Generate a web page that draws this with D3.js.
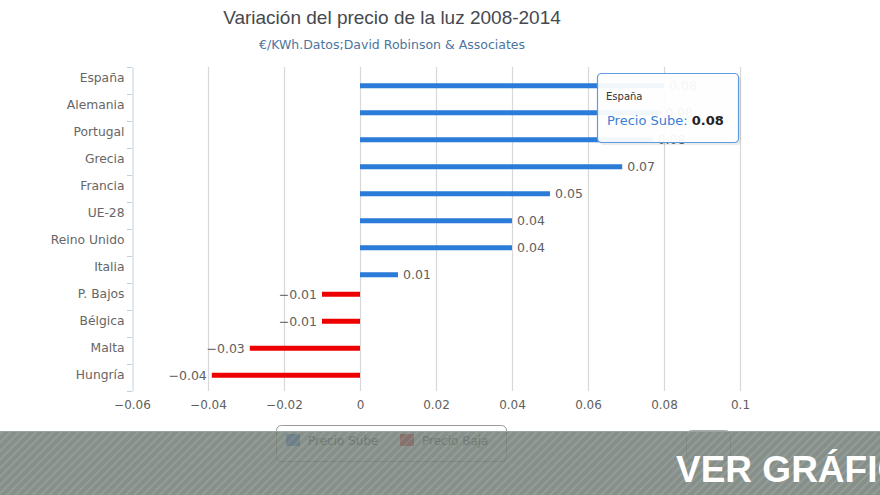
<!DOCTYPE html>
<html><head><meta charset="utf-8">
<script src="https://cdn.jsdelivr.net/npm/d3@7/dist/d3.min.js"></script>
<style>body{margin:0;background:#fff}svg{display:block}</style>
</head><body>
<svg id="c" width="880" height="495"></svg>
<script>
const categories = ["España","Alemania","Portugal","Grecia","Francia","UE-28","Reino Unido","Italia","P. Bajos","Bélgica","Malta","Hungría"];
const precioSube = [0.08,0.079,0.077,0.069,0.05,0.04,0.04,0.01,null,null,null,null];
const precioBaja = [null,null,null,null,null,null,null,null,-0.01,-0.01,-0.029,-0.039];
const xTicks = [-0.06,-0.04,-0.02,0,0.02,0.04,0.06,0.08,0.1];
const seriesNames = ["Precio Baja","Precio Sube"];
const legendNames = ["Precio Sube","Precio Baja"];
const title = "Variación del precio de la luz 2008-2014";
const subtitle = "€/KWh.Datos;David Robinson & Associates";

const svg = d3.select("#c");
const font = "'DejaVu Sans', sans-serif";
const x = d3.scaleLinear().domain([-0.06,0.1]).range([132,740]);
const y = d3.scaleBand().domain(categories).range([67,391]);
const inner = d3.scaleBand().domain(seriesNames).range([7.5,22.5]);
const colors = {"Precio Sube":"#2b7bd9","Precio Baja":"#ee0000"};

svg.append("text").attr("x",392).attr("y",24).attr("text-anchor","middle")
  .attr("font-family","'Liberation Sans', Arial, sans-serif").attr("font-size",19).attr("fill","#45494f").text(title);
svg.append("text").attr("x",392).attr("y",49).attr("text-anchor","middle")
  .attr("font-family",font).attr("font-size",12.5).attr("fill","#4d759e").text(subtitle);

// grid
svg.append("g").selectAll("line").data(xTicks.filter(d=>d!==-0.06)).join("line")
  .attr("x1",d=>x(d)+0.5).attr("x2",d=>x(d)+0.5).attr("y1",67).attr("y2",391)
  .attr("stroke","#d8d8d8").attr("stroke-width",1.2);

// x axis labels
const xa = svg.append("g").attr("transform","translate(0,391)")
  .call(d3.axisBottom(x).tickValues(xTicks).tickSize(0).tickPadding(9).tickFormat(d=>d3.format("")(+d.toFixed(2)).replace("-","\u2212")));
xa.select(".domain").remove();
xa.selectAll("text").attr("font-family",font).attr("font-size",12).attr("fill","#606060");

// y axis
const ya = svg.append("g").attr("transform","translate(132.5,0)")
  .call(d3.axisLeft(y).tickSize(0).tickPadding(8));
ya.select(".domain").attr("stroke","#c0d0e0");
ya.selectAll("text").attr("font-family",font).attr("font-size",12.3).attr("fill","#666").attr("dy","0.1em");
svg.append("g").selectAll("line").data(categories.concat(["_end"])).join("line")
  .attr("x1",127).attr("x2",132).attr("y1",(d,i)=>67+i*y.step()+0.5).attr("y2",(d,i)=>67+i*y.step()+0.5)
  .attr("stroke","#c0d0e0");

// bars
function drawSeries(name, vals){
  const data = categories.map((c,i)=>({c, v: vals[i]})).filter(d=>d.v!==null);
  const g = svg.append("g");
  const bh = 5;
  g.selectAll("rect").data(data).join("rect")
    .attr("x",d=>x(Math.min(0,d.v))).attr("width",d=>Math.abs(x(d.v)-x(0)))
    .attr("y",d=>y(d.c)+inner(name)+inner.bandwidth()/2-bh/2).attr("height",bh)
    .attr("fill",colors[name]);
  g.selectAll("text").data(data).join("text")
    .attr("x",d=>d.v>=0? x(d.v)+5 : x(d.v)-5)
    .attr("y",d=>y(d.c)+inner(name)+inner.bandwidth()/2)
    .attr("dy","0.35em").attr("text-anchor",d=>d.v>=0?"start":"end")
    .attr("font-family",font).attr("font-size",12.5).attr("fill","#606060")
    .text(d=>d.v.toFixed(2).replace("-","\u2212"));
}
drawSeries("Precio Sube", precioSube);
drawSeries("Precio Baja", precioBaja);

// tooltip
const tt = svg.append("g");
tt.append("rect").attr("x",599).attr("y",75).attr("width",141).attr("height",69).attr("rx",4)
  .attr("fill","#000").attr("opacity",0.08).attr("transform","translate(1,1)");
tt.append("rect").attr("x",597.5).attr("y",73.5).attr("width",141).attr("height",69).attr("rx",4)
  .attr("fill","#fff").attr("fill-opacity",0.94).attr("stroke","#5d9be3").attr("stroke-width",1.2);
tt.append("text").attr("x",606).attr("y",100).attr("font-family",font).attr("font-size",10).attr("fill","#333").text(categories[0]);
const t2 = tt.append("text").attr("x",607).attr("y",125).attr("font-family",font).attr("font-size",13);
t2.append("tspan").attr("fill","#3a7fd5").text(legendNames[0]+": ");
t2.append("tspan").attr("fill","#222").attr("font-weight","bold").text(precioSube[0].toFixed(2));

// legend (behind banner)
const lg = svg.append("g");
lg.append("rect").attr("x",276.5).attr("y",425.5).attr("width",230).attr("height",36).attr("rx",5)
  .attr("fill","none").attr("stroke","#999");
legendNames.forEach((n,i)=>{
  const lx = 286 + i*114;
  lg.append("rect").attr("x",lx).attr("y",434).attr("width",14).attr("height",12).attr("fill",colors[n]);
  lg.append("text").attr("x",lx+22).attr("y",445).attr("font-family",font).attr("font-size",12).attr("fill","#333").text(n);
});
lg.append("rect").attr("x",686.5).attr("y",430.5).attr("width",44).attr("height",30).attr("rx",5).attr("fill","none").attr("stroke","#aaa");

// banner
const defs = svg.append("defs");
const pat = defs.append("pattern").attr("id","stripes").attr("width",6).attr("height",6)
  .attr("patternUnits","userSpaceOnUse").attr("patternTransform","rotate(45)");
pat.append("rect").attr("width",6).attr("height",6).attr("fill","#76807a");
pat.append("rect").attr("width",2).attr("height",6).attr("fill","#858f88");
svg.append("rect").attr("x",0).attr("y",431).attr("width",880).attr("height",64).attr("fill","url(#stripes)").attr("opacity",0.88);
svg.append("line").attr("x1",0).attr("x2",880).attr("y1",431.5).attr("y2",431.5).attr("stroke","#9aa39c");
svg.append("text").attr("x",676).attr("y",482).attr("font-family","'Liberation Sans', Arial, sans-serif")
  .attr("font-weight","bold").attr("font-size",37).attr("fill","#fff").text("VER GRÁFICO");
</script>
</body></html>
